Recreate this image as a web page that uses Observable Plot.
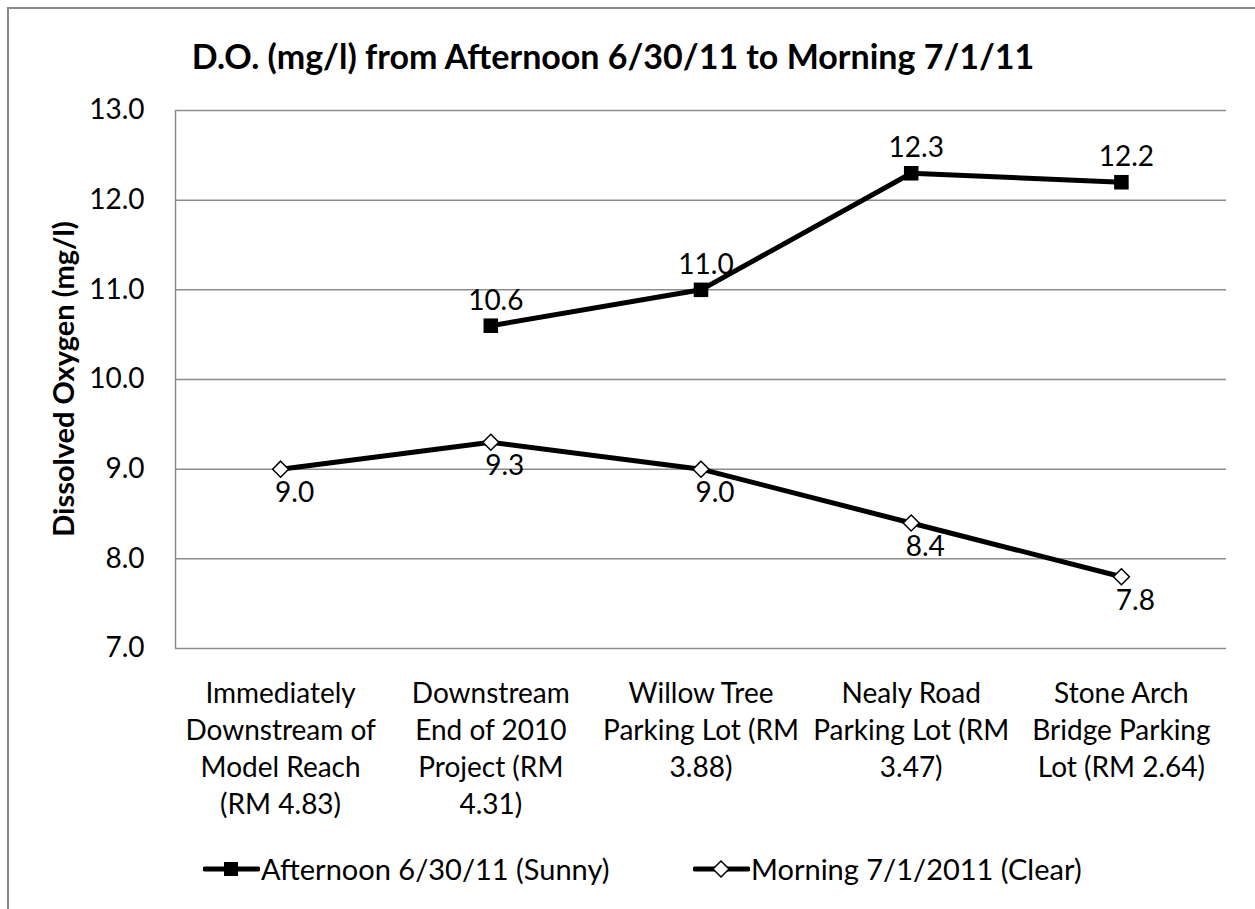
<!DOCTYPE html>
<html><head><meta charset="utf-8">
<script src="https://cdn.jsdelivr.net/npm/d3@7"></script>
<script src="https://cdn.jsdelivr.net/npm/@observablehq/plot@0.6"></script>
<style>
html,body{margin:0;padding:0;background:#fff;overflow:hidden;width:1255px;height:909px;}
body{font-family:Lato,"Open Sans",sans-serif;position:relative;color:#000;}
#frame{position:absolute;left:7px;top:7px;width:1300px;height:1000px;border-left:2px solid #8a8a8a;border-top:2px solid #8a8a8a;}
#title{position:absolute;left:0;top:36px;width:1226px;text-align:center;font-weight:bold;font-size:34px;line-height:40px;}
#chart{position:absolute;left:0;top:0;}
#ytitle{position:absolute;left:62px;top:379px;transform:translate(-50%,-50%) rotate(-90deg);font-weight:bold;font-size:29px;white-space:nowrap;}
.leg{position:absolute;top:851px;display:flex;align-items:center;font-size:29px;line-height:36px;white-space:nowrap;}
.leg svg{margin-right:1px;}
</style></head>
<body>
<div id="frame"></div>
<div id="title"></div>
<div id="chart"></div>
<div id="ytitle"></div>
<div id="legend"></div>
<script>
const titleText = "D.O. (mg/l) from Afternoon 6/30/11 to Morning 7/1/11";
const yTitle = "Dissolved Oxygen (mg/l)";
const sites = [
  "Immediately Downstream of Model Reach (RM 4.83)",
  "Downstream End of 2010 Project (RM 4.31)",
  "Willow Tree Parking Lot (RM 3.88)",
  "Nealy Road Parking Lot (RM 3.47)",
  "Stone Arch Bridge Parking Lot (RM 2.64)"
];
const siteLines = [
  ["Immediately", "Downstream of", "Model Reach", "(RM 4.83)"],
  ["Downstream", "End of 2010", "Project (RM", "4.31)"],
  ["Willow Tree", "Parking Lot (RM", "3.88)"],
  ["Nealy Road", "Parking Lot (RM", "3.47)"],
  ["Stone Arch", "Bridge Parking", "Lot (RM 2.64)"]
];
const afternoon = [null, 10.6, 11.0, 12.3, 12.2];
const morning = [9.0, 9.3, 9.0, 8.4, 7.8];
const yTicks = [7, 8, 9, 10, 11, 12, 13];
const seriesNames = ["Afternoon 6/30/11 (Sunny)", "Morning 7/1/2011 (Clear)"];

document.getElementById("title").textContent = titleText;
document.getElementById("ytitle").textContent = yTitle;

const aRows = sites.map((s, i) => ({i, site: s, value: afternoon[i]}));
const mRows = sites.map((s, i) => ({i, site: s, value: morning[i]}));
const aDef = aRows.filter(d => d.value != null);

const font = "Lato, 'Open Sans', sans-serif";
const chart = Plot.plot({
  width: 1255,
  height: 840,
  marginTop: 110,
  marginLeft: 175,
  marginRight: 29,
  marginBottom: 192,
  style: {fontFamily: font, fontSize: "28px", color: "#000", background: "transparent", overflow: "visible"},
  x: {domain: [-0.5, sites.length - 0.5], axis: null},
  y: {domain: [7, 13], axis: null},
  marks: [
    Plot.gridY(yTicks, {stroke: "#8c8c8c", strokeOpacity: 1, strokeWidth: 1.5}),
    Plot.ruleX([-0.5], {stroke: "#8c8c8c", strokeWidth: 1.5}),
    Plot.axisY(yTicks, {tickSize: 0, tickPadding: 31, tickFormat: d => d.toFixed(1), fontSize: 28, fill: "#000", label: null}),
    Plot.axisX(d3.range(sites.length), {tickSize: 0, tickPadding: 28, tickFormat: i => siteLines[i].join("\n"), fontSize: 28, lineHeight: 1.32, lineAnchor: "top", fill: "#000", label: null}),
    Plot.line(aRows, {x: "i", y: "value", stroke: "#000", strokeWidth: 5, strokeLinejoin: "round"}),
    Plot.line(mRows, {x: "i", y: "value", stroke: "#000", strokeWidth: 5, strokeLinejoin: "round"}),
    Plot.dot(aDef, {x: "i", y: "value", symbol: "square", r: 8.2, fill: "#000", stroke: "none"}),
    Plot.dot(mRows, {x: "i", y: "value", symbol: "diamond2", r: 7.2, fill: "#fff", stroke: "#000", strokeWidth: 1.5}),
    Plot.text(aDef, {x: "i", y: "value", text: d => d.value.toFixed(1), dy: -25, dx: 5, fontSize: 28, fill: "#000"}),
    Plot.text(mRows, {x: "i", y: "value", text: d => d.value.toFixed(1), dy: 24, dx: 14, fontSize: 28, fill: "#000"})
  ]
});
document.getElementById("chart").appendChild(chart);

const legend = document.getElementById("legend");
const legLeft = [203, 693];
seriesNames.forEach((name, k) => {
  const item = document.createElement("div");
  item.className = "leg";
  item.style.left = legLeft[k] + "px";
  const marker = k === 0
    ? '<rect x="21" y="4" width="14" height="14" fill="#000"/>'
    : '<path d="M28 3 L36 11 L28 19 L20 11 Z" fill="#fff" stroke="#000" stroke-width="1.5"/>';
  item.innerHTML = '<svg width="57" height="22"><line x1="2" y1="11" x2="55" y2="11" stroke="#000" stroke-width="5" stroke-linecap="round"/>' + marker + '</svg><span></span>';
  item.querySelector("span").textContent = name;
  legend.appendChild(item);
});
</script>
</body></html>
